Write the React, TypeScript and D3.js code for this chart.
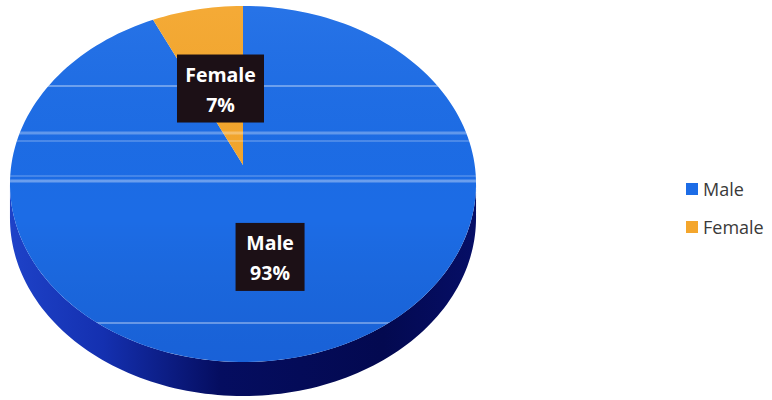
import React from "react";
import * as d3 from "d3";

const categories = ["Male", "Female"];
const values = [93, 7];
const labelTexts = ["93%", "7%"];

const W = 772, H = 400;
// projected disk: ellipse centre, scales and perspective factor
const cx = 243, cy = 184;
const sx = 231.7, sy = 178, persp = 0.1067, lift = 19;
const depth = 34;
const colors: Record<string, string> = { Male: "#1c6ce6", Female: "#f4a62c" };
const labelRadius: Record<string, number> = { Male: 0.507, Female: 0.467 };
const scanLines = [
  { y: 86, w: 2, o: 0.35 },
  { y: 133, w: 3, o: 0.3 },
  { y: 141, w: 2, o: 0.2 },
  { y: 181, w: 3, o: 0.35 },
  { y: 176, w: 2, o: 0.18 },
  { y: 323, w: 1.5, o: 0.45 },
];

// project a point of the unit disk (angle from top, clockwise; radius fraction) to screen
function proj(angle: number, r: number, dy = 0): [number, number] {
  const u = r * Math.sin(angle);
  const v = r * Math.cos(angle);
  const w = 1 + persp * v;
  return [cx + (sx * u) / w, cy + dy - (sy * v + lift) / w];
}

export default function App() {
  const pie = d3.pie<number>().sort(null).startAngle(0).endAngle(2 * Math.PI)(values);

  const slicePath = (d: d3.PieArcDatum<number>) => {
    const p = d3.path();
    const c = proj(0, 0);
    p.moveTo(c[0], c[1]);
    const n = Math.max(4, Math.ceil(((d.endAngle - d.startAngle) / (2 * Math.PI)) * 200));
    for (let i = 0; i <= n; i++) {
      const a = d.startAngle + ((d.endAngle - d.startAngle) * i) / n;
      const q = proj(a, 1);
      p.lineTo(q[0], q[1]);
    }
    p.closePath();
    return p.toString();
  };

  // silhouette extremes where sin(phi) = -persp (slightly in near half)
  const aExt = Math.PI / 2 + Math.asin(persp);
  const sidePath = (() => {
    const p = d3.path();
    const n = 120;
    // along near rim from right extreme to left extreme (top face edge)
    for (let i = 0; i <= n; i++) {
      const a = aExt + ((2 * Math.PI - 2 * aExt) * i) / n;
      const q = proj(a, 1);
      if (i === 0) p.moveTo(q[0], q[1]); else p.lineTo(q[0], q[1]);
    }
    for (let i = 0; i <= n; i++) {
      const a = 2 * Math.PI - aExt - ((2 * Math.PI - 2 * aExt) * i) / n;
      const q = proj(a, 1, depth);
      p.lineTo(q[0], q[1]);
    }
    p.closePath();
    return p.toString();
  })();

  const rimPath = (() => {
    const p = d3.path();
    for (let i = 0; i <= 240; i++) {
      const q = proj((2 * Math.PI * i) / 240, 1);
      if (i === 0) p.moveTo(q[0], q[1]); else p.lineTo(q[0], q[1]);
    }
    p.closePath();
    return p.toString();
  })();

  return (
    <svg width={W} height={H} style={{ position: "absolute", left: 0, top: 0 }}>
      <defs>
        <linearGradient id="side" x1="0" y1="0" x2="1" y2="0">
          <stop offset="0" stopColor="#1e42c8" />
          <stop offset="0.2" stopColor="#1430b0" />
          <stop offset="0.45" stopColor="#050d60" />
          <stop offset="0.8" stopColor="#030950" />
          <stop offset="1" stopColor="#060e66" />
        </linearGradient>
        <linearGradient id="topShade" x1="0" y1="0" x2="0" y2="1">
          <stop offset="0" stopColor="#ffffff" stopOpacity="0.05" />
          <stop offset="0.6" stopColor="#000000" stopOpacity="0" />
          <stop offset="1" stopColor="#001070" stopOpacity="0.12" />
        </linearGradient>
        <clipPath id="topClip">
          <path d={rimPath} />
        </clipPath>
      </defs>
      <rect width={W} height={H} fill="#ffffff" />
      <path d={sidePath} fill="url(#side)" />
      {pie.map((d, i) => (
        <path key={i} d={slicePath(d)} fill={colors[categories[i]]} />
      ))}
      <g clipPath="url(#topClip)">
        <path d={rimPath} fill="url(#topShade)" />
        {scanLines.map((s, i) => (
          <line key={i} x1={0} x2={W} y1={s.y} y2={s.y} stroke="#ffffff" strokeOpacity={s.o} strokeWidth={s.w} />
        ))}
      </g>
      {pie.map((d, i) => {
        const a = (d.startAngle + d.endAngle) / 2;
        const [x, y] = proj(a, labelRadius[categories[i]]);
        const bw = categories[i] === "Female" ? 87 : 69;
        const bh = 68;
        return (
          <g key={"l" + i} transform={`translate(${x},${y})`}>
            <rect x={-bw / 2} y={-bh / 2} width={bw} height={bh} fill="#1c1016" />
            <text x={0} y={-7} textAnchor="middle" fill="#ffffff" fontFamily="'Open Sans', sans-serif" fontWeight="bold" fontSize={19.5}>
              {categories[i]}
            </text>
            <text x={0} y={23} textAnchor="middle" fill="#ffffff" fontFamily="'Open Sans', sans-serif" fontWeight="bold" fontSize={19.5}>
              {labelTexts[i]}
            </text>
          </g>
        );
      })}
      {categories.map((c, i) => (
        <g key={"g" + i} transform={`translate(686,${183 + i * 38})`}>
          <rect x={0} y={0} width={12} height={12} fill={colors[c]} />
          <text x={17} y={12.5} fill="#3a3a3a" fontFamily="'Open Sans', sans-serif" fontSize={18}>
            {c}
          </text>
        </g>
      ))}
    </svg>
  );
}
